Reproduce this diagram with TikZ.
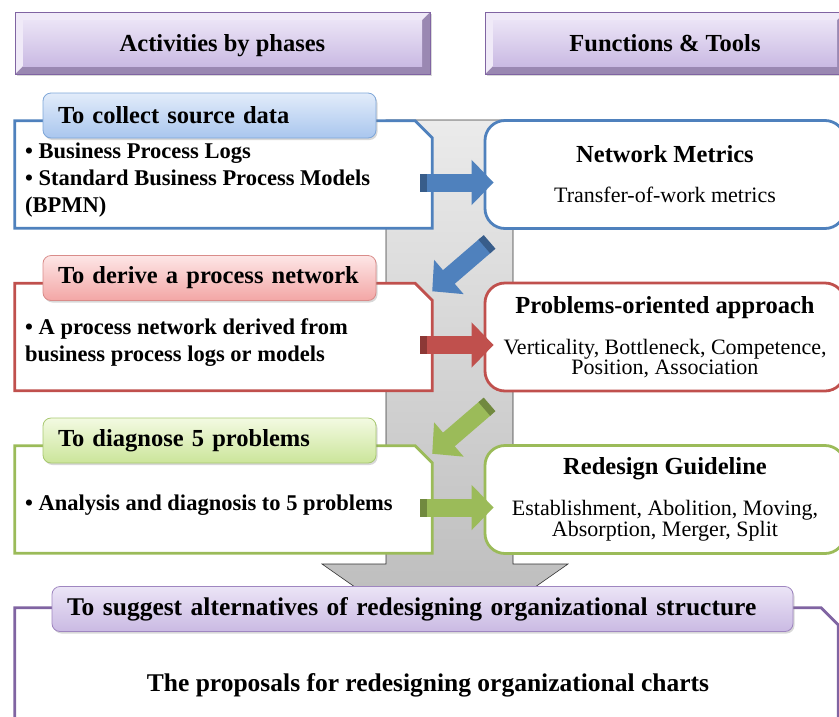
\documentclass[tikz,border=0pt]{standalone}
\usepackage{fontspec}
\setmainfont{Liberation Serif}
\usetikzlibrary{arrows.meta,shadows}

% colours of the three phases and of the frame
\definecolor{blueline}{HTML}{4F81BD}
\definecolor{bluedark}{HTML}{385D8A}
\definecolor{bluetop}{HTML}{E2ECFA}
\definecolor{bluebot}{HTML}{A9C6EE}
\definecolor{bluetab}{HTML}{7EA6D8}
\definecolor{redline}{HTML}{C0504D}
\definecolor{reddark}{HTML}{8C3836}
\definecolor{redtop}{HTML}{FDE6E6}
\definecolor{redbot}{HTML}{F3A6A5}
\definecolor{redtab}{HTML}{D98C8A}
\definecolor{greenline}{HTML}{9BBB59}
\definecolor{greendark}{HTML}{71893F}
\definecolor{greentop}{HTML}{F3FAE2}
\definecolor{greenbot}{HTML}{CBE59A}
\definecolor{greentab}{HTML}{A8C870}
\definecolor{purpleline}{HTML}{8064A2}
\definecolor{purpletop}{HTML}{EBE4F6}
\definecolor{purplebot}{HTML}{CABAE3}
\definecolor{purpletab}{HTML}{9F86C0}
\definecolor{purplelight}{HTML}{F0EAF8}
\definecolor{purpledark}{HTML}{9A88B2}
\definecolor{columntop}{HTML}{EBEBEB}
\definecolor{columnbot}{HTML}{B9B9B9}

\tikzset{
  header/.style={minimum width=#1, minimum height=62pt, inner sep=0pt,
    text depth=1pt, draw=purpleline, line width=.8pt, fill=purpledark,
    font=\fontsize{24.5}{28}\selectfont\bfseries,
    drop shadow={shadow xshift=2pt, shadow yshift=-2pt, opacity=.3},
    path picture={
      \fill[purplelight] (path picture bounding box.south west)
        -- (path picture bounding box.north west)
        -- (path picture bounding box.north east)
        -- ([shift={(-8pt,-8pt)}]path picture bounding box.north east)
        -- ([shift={(8pt,-8pt)}]path picture bounding box.north west)
        -- ([shift={(8pt,8pt)}]path picture bounding box.south west) -- cycle;
      \shade[top color=purpletop, bottom color=purplebot]
        ([shift={(8pt,8pt)}]path picture bounding box.south west) rectangle
        ([shift={(-8pt,-8pt)}]path picture bounding box.north east);
    }},
  tab/.style={rounded corners=8pt, draw=#1tab, line width=.8pt,
    top color=#1top, bottom color=#1bot, minimum height=45pt,
    inner xsep=15pt, align=left, font=\fontsize{24.5}{28}\selectfont\bfseries,
    drop shadow={shadow xshift=1.5pt, shadow yshift=-2pt, opacity=.3}},
  phasebox/.style={minimum width=417pt, minimum height=107pt, inner sep=0pt},
  phaseline/.style={draw=#1line, line width=2.8pt, fill=white},
  items/.style={anchor=west, align=left, inner sep=0pt,
    font=\fontsize{22.5}{27}\selectfont\bfseries},
  funcbox/.style={rounded corners=20pt, draw=#1line, line width=2.8pt, fill=white,
    minimum width=360pt, minimum height=108pt, align=center,
    font=\fontsize{22}{20}\selectfont},
  flow/.style={line width=18pt, draw=#1line,
    {Rectangle[length=7pt, width=18pt, color=#1dark]}-{Triangle[width=44pt, length=22pt]}},
}

\begin{document}
\begin{tikzpicture}[x=1pt, y=-1pt]
  \useasboundingbox (0,0) rectangle (839,716);
  \clip (0,0) rectangle (839,716);

  % headings
  \node[header=415pt] (hphase) at (222.5,43) {Activities by phases};
  \node[header=360pt] (htool) at (665,43) {Functions \& Tools};

  % grey column with its arrow head
  \draw[draw=black!80, line width=.6pt, top color=columntop, bottom color=columnbot]
    (386,120) -- (513,120) -- (513,564) -- (568,564) -- (445,650)
    -- (322,564) -- (386,564) -- cycle;

  \foreach \i/\col/\tabtext/\itemtext/\ftitle/\fbody in {
      0/blue/{To collect source data}/{• Business Process Logs\\ • Standard Business Process Models\\ (BPMN)}/{Network Metrics}/{Transfer-of-work metrics},
      1/red/{To derive a process network}/{• A process network derived from\\ business process logs or models}/{Problems-oriented approach}/{Verticality, Bottleneck, Competence,\\ Position, Association},
      2/green/{To diagnose 5 problems}/{• Analysis and diagnosis to 5 problems}/{Redesign Guideline}/{Establishment, Abolition, Moving,\\ Absorption, Merger, Split}} {
    \begin{scope}[yshift=-\i*162.5pt]
      \node[phasebox] (ph\i) at (223.5,174.5) {};
      \draw[phaseline=\col] (ph\i.north west) -- ([xshift=-17pt]ph\i.north east)
        -- ([yshift=-17pt]ph\i.north east) -- (ph\i.south east)
        -- (ph\i.south west) -- cycle;
      \node[tab=\col, text width=303pt] (tab\i) at (209.5,115.5) {\tabtext};
      \node[items] (it\i) at (25,180) {\itemtext};
      \node[funcbox=\col] (fn\i) at (665,174.5)
        {{\fontsize{24.5}{20}\selectfont\bfseries \ftitle}\\[20pt] \fbody};
      \draw[flow=\col] ([shift={(-12pt,-8pt)}]ph\i.east) -- ([shift={(10pt,-8pt)}]fn\i.west);
    \end{scope}
  }

  % from each tool down to the next phase
  \foreach \i/\j/\col in {0/1/blue, 1/2/green}
    \draw[flow=\col] ([shift={(6pt,-12pt)}]fn\i.south west) -- ([yshift=-8pt]ph\j.north east);

  % last phase
  \node[phasebox, minimum width=823pt, minimum height=130pt] (ph3) at (426.5,673) {};
  \draw[phaseline=purple] (ph3.north west) -- ([xshift=-17pt]ph3.north east)
    -- ([yshift=-17pt]ph3.north east) -- (ph3.south east)
    -- (ph3.south west) -- cycle;
  \node[tab=purple, text width=711pt, font=\fontsize{25.5}{28}\selectfont\bfseries]
    (tab3) at (422.5,609)
    {To suggest alternatives of redesigning organizational structure};
  \node[font=\fontsize{25.5}{28}\selectfont\bfseries] (prop) at (428,685)
    {The proposals for redesigning organizational charts};
\end{tikzpicture}
\end{document}
